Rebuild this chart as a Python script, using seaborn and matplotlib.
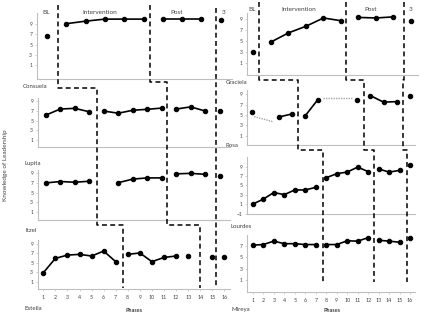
import matplotlib
matplotlib.use("Agg")
import matplotlib.pyplot as plt
import seaborn as sns
import numpy as np
import pandas as pd

sns.set_style("white")
plt.rcParams["font.family"] = ["Lato", "DejaVu Sans"]

W, H = 427, 319
GRAY = "#bfbfbf"
TXT = "#404040"

# ---- data (session, score) per participant; seg marks separate line pieces ----
estella_x = [1, 2, 3, 4, 5, 6, 7, 8, 9, 10]
estella_y = [6.7, 9.1, 9.6, 10.0, 10.0, 10.0, 10.0, 10.0, 10.0, 9.8]
estella_seg = [0, 1, 1, 1, 1, 1, 2, 2, 2, 3]

consuela_x = [1, 2, 3, 4, 5, 6, 7, 8, 9, 10, 11, 12, 13]
consuela_y = [6.1, 7.35, 7.5, 6.8, 6.95, 6.5, 7.1, 7.3, 7.55, 7.35, 7.8, 6.95, 6.9]
consuela_seg = [0, 0, 0, 0, 1, 1, 1, 1, 1, 2, 2, 2, 3]

lupita_x = [1, 2, 3, 4, 6, 7, 8, 9, 10, 11, 12, 13]
lupita_y = [7.0, 7.3, 7.15, 7.35, 7.05, 7.8, 8.05, 8.05, 8.9, 9.0, 8.8, 8.5]
lupita_seg = [0, 0, 0, 0, 1, 1, 1, 1, 2, 2, 2, 3]

itzel_x = [1, 2, 3, 4, 5, 6, 7, 8, 9, 10, 11, 12, 13, 15, 16]
itzel_y = [2.9, 5.95, 6.65, 6.8, 6.45, 7.5, 5.25, 6.8, 7.1, 5.25, 6.15, 6.45, 6.5, 6.15, 6.15]
itzel_seg = [0, 0, 0, 0, 0, 0, 0, 1, 1, 1, 1, 1, 2, 3, 4]

mireya_x = [1, 2, 3, 4, 5, 6, 7, 8, 9, 10]
mireya_y = [2.9, 4.75, 6.4, 7.6, 9.1, 8.6, 9.2, 9.1, 9.3, 8.5]
mireya_seg = [0, 1, 1, 1, 1, 1, 2, 2, 2, 3]

graciela_x = [1, 3, 4, 5, 6, 9, 10, 11, 12, 13]
graciela_y = [5.5, 4.6, 5.2, 4.75, 8.0, 8.0, 8.75, 7.5, 7.6, 8.75]
graciela_seg = [0, 1, 1, 2, 2, 3, 4, 4, 4, 5]
# faint dotted pieces bridging missing sessions
graciela_gap_x = [[1.15, 2.6], [6.4, 8.6]]
graciela_gap_y = [[4.7, 3.7], [8.3, 8.3]]

rosa_x = list(range(1, 17))
rosa_y = [1.05, 2.1, 3.5, 3.05, 4.05, 4.05, 4.6, 6.65, 7.5, 7.85, 8.9, 7.95, 8.5, 7.85, 8.2, 9.4]
rosa_seg = [0] * 7 + [1] * 5 + [2] * 3 + [3]

lourdes_x = list(range(1, 17))
lourdes_y = [7.1, 7.2, 7.8, 7.35, 7.35, 7.2, 7.2, 7.2, 7.2, 7.85, 7.8, 8.4, 7.95, 7.8, 7.6, 8.3]
lourdes_seg = [0] * 7 + [1] * 5 + [2] * 3 + [3]

# phase change positions (in session units)
phase_estella = [1.57, 6.34, 9.76]
phase_consuela = [4.56, 9.34, 12.74]
phase_itzel = [7.63, 13.95, 15.33]
phase_mireya = [1.30, 6.26, 9.59]
phase_graciela = [4.5, 9.48, 12.48]
phase_rosa = [7.67, 12.6, 15.7]

fig = plt.figure(figsize=(W / 100, H / 100), dpi=100)


def box(l, t, r, b):
    return [l / W, 1 - b / H, (r - l) / W, (b - t) / H]


def panel(rect, xs, ys, seg, xlim, ylim, yticks=(1, 3, 5, 7, 9), xlabels=False):
    ax = fig.add_axes(box(*rect))
    df = pd.DataFrame({"session": xs, "score": ys, "seg": seg})
    sns.lineplot(data=df, x="session", y="score", units="seg", estimator=None,
                 color="black", lw=1.2, marker="o", markersize=3.2,
                 markeredgecolor="black", ax=ax, legend=False)
    ax.set_xlim(*xlim)
    ax.set_ylim(*ylim)
    ax.set_yticks(list(yticks))
    ax.tick_params(axis="y", labelsize=3.6, length=1.5, width=0.5, color=GRAY,
                   labelcolor=TXT, pad=2, left=True)
    if xlabels:
        ax.set_xticks(range(1, 17))
        ax.tick_params(axis="x", labelsize=3.8, length=1.5, width=0.5, color=GRAY,
                       labelcolor=TXT, pad=3, bottom=True)
    else:
        ax.set_xticks([])
    ax.set_xlabel("")
    ax.set_ylabel("")
    for s in ["top", "right"]:
        ax.spines[s].set_visible(False)
    for s in ["left", "bottom"]:
        ax.spines[s].set_color(GRAY)
        ax.spines[s].set_linewidth(0.8)
    ax.patch.set_alpha(0)
    return ax


axL1 = panel((37, 13, 232, 79), estella_x, estella_y, estella_seg, (0.48, 10.58), (-1.76, 11.2))
axL2 = panel((38, 98, 230, 147), consuela_x, consuela_y, consuela_seg, (0.47, 13.71), (-0.43, 9.62))
axL3 = panel((38, 170, 230, 220), lupita_x, lupita_y, lupita_seg, (0.47, 13.71), (-0.73, 9.7))
axL4 = panel((38, 240, 230, 289), itzel_x, itzel_y, itzel_seg, (0.56, 16.47), (-0.55, 9.85), xlabels=True)
axR1 = panel((247.5, 13, 418, 75), mireya_x, mireya_y, mireya_seg, (0.66, 10.4), (-1.22, 10.0))
axR2 = panel((247.5, 90, 415, 145), graciela_x, graciela_y, graciela_seg, (0.64, 13.39), (-0.8, 9.85))
axR3 = panel((247.5, 157, 415, 214), rosa_x, rosa_y, rosa_seg, (0.49, 16.47), (-1.06, 11.05),
             yticks=(-1, 1, 3, 5, 7, 9))
axR4 = panel((247.5, 235, 415, 292), lourdes_x, lourdes_y, lourdes_seg, (0.49, 16.47), (-1.1, 8.87),
             yticks=(1, 3, 5, 7), xlabels=True)

for gx, gy in zip(graciela_gap_x, graciela_gap_y):
    axR2.plot(gx, gy, color="#a6a6a6", lw=1.0, ls=(0, (1, 0.8)))

# ---- overlay for phase lines and text, in pixel coordinates ----
ov = fig.add_axes([0, 0, 1, 1], zorder=5)
ov.set_xlim(0, W)
ov.set_ylim(H, 0)
ov.axis("off")


def px(ax, x):
    return ax.transData.transform((x, 0))[0] * W / fig.bbox.width


def step_line(bands):
    xs, ys = [], []
    for ax, xv, top, bot in bands:
        p = px(ax, xv)
        xs += [p, p]
        ys += [top, bot]
    ov.plot(xs, ys, color="black", lw=1.1, ls=(0, (3.2, 2.2)), solid_capstyle="butt")


for i, (a1, b1) in enumerate([(5, 88), (5, 82), (8, 82)]):
    bot_mid = 225
    if i < 2:
        step_line([(axL1, phase_estella[i], a1, b1), (axL2, phase_consuela[i], b1, bot_mid),
                   (axL4, phase_itzel[i], bot_mid, 288)])
    else:
        step_line([(axL1, phase_estella[i], a1, 80), (axL2, phase_consuela[i], 80, 230),
                   (axL4, phase_itzel[i], 230, 288)])

for i, t in enumerate([79.5, 80, 80]):
    step_line([(axR1, phase_mireya[i], 2, t), (axR2, phase_graciela[i], t, 150),
               (axR3, phase_rosa[i], 150, 282)])

fs_phase = 4.6
for x, y, s in [(46.5, 12.7, "BL"), (99.5, 12.7, "Intervention"), (177, 12.7, "Post"),
                (223.5, 12.7, "3"), (251.7, 9.3, "BL"), (299, 9.3, "Intervention"),
                (371, 9.3, "Post"), (411, 9.3, "3")]:
    ov.text(x, y, s, ha="center", va="center", fontsize=fs_phase, color=TXT)

fs_name = 4.4
for x, y, s in [(23, 87, "Consuela"), (25, 164, "Lupita"), (26, 231, "Itzel"),
                (226, 82.3, "Graciela"), (226, 145.7, "Rosa"), (230.7, 226, "Lourdes"),
                (25, 309, "Estella"), (231.7, 310, "Mireya")]:
    ov.text(x, y, s, ha="left", va="center", fontsize=fs_name, color=TXT)

for x, y in [(134, 311), (331.7, 310)]:
    ov.text(x, y, "Phases", ha="center", va="center", fontsize=4.0, color=TXT,
            fontweight="bold")

ov.text(6, 165, "Knowledge of Leadership", rotation=90, ha="center", va="center",
        fontsize=4.6, color=TXT)

fig.savefig("out.png", dpi=100)
